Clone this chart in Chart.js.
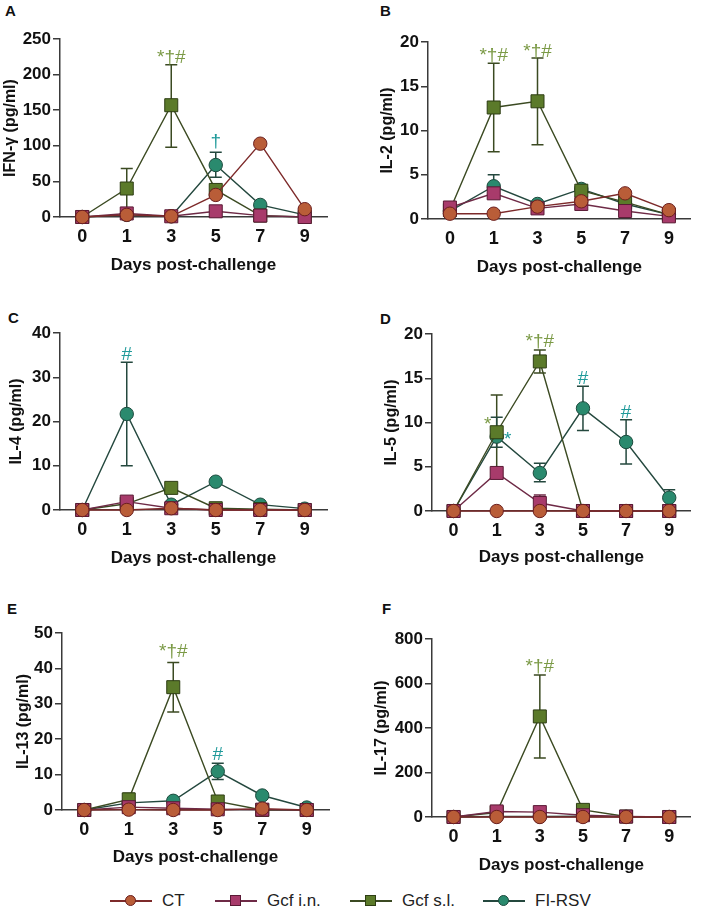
<!DOCTYPE html>
<html><head><meta charset="utf-8">
<script src="https://cdn.jsdelivr.net/npm/chart.js@4/dist/chart.umd.min.js"></script>
<style>
body{margin:0;background:#fff;width:701px;height:920px;position:relative;overflow:hidden;font-family:"Liberation Sans",Arial,Helvetica,sans-serif}
canvas{position:absolute}
.let{position:absolute;font-weight:bold;font-size:15px;line-height:15px;color:#111}
.leg{position:absolute;top:890px;height:22px}
.leg .ln{position:absolute;top:10px;height:1.5px;width:42px;left:0}
.leg .mk{position:absolute;top:5px;left:15px;width:11px;height:11px;box-sizing:border-box;border:1px solid}
.leg .tx{position:absolute;left:52px;top:1px;font-size:17px;color:#222;white-space:nowrap}
</style></head><body>
<div class="let" style="left:5px;top:3px">A</div>
<div class="let" style="left:380px;top:3px">B</div>
<div class="let" style="left:8px;top:310px">C</div>
<div class="let" style="left:380px;top:311px">D</div>
<div class="let" style="left:7px;top:601px">E</div>
<div class="let" style="left:382px;top:601px">F</div>
<canvas id="cA"></canvas><canvas id="cB"></canvas><canvas id="cC"></canvas>
<canvas id="cD"></canvas><canvas id="cE"></canvas><canvas id="cF"></canvas>
<div id="legend"></div>
<script>
// ---- data ----
const days = ['0', '1', '3', '5', '7', '9'];
const groups = ['CT', 'Gcf i.n.', 'Gcf s.l.', 'FI-RSV'];

// IFN-gamma (pg/ml)
const ifnCT = [0, 3, 1, 31, 103, 11];
const ifnIN = [0, 5, 1, 8, 2, 0];
const ifnSL = [0, 40, 157, 38, 2, 0];
const ifnFI = [0, 3, 1, 73, 17, 3];
const ifnSLerr = [null, [11, 68], [98, 214], null, null, null];
const ifnFIerr = [null, null, null, [56, 91], null, null];

// IL-2
const il2CT = [0.6, 0.6, 1.4, 2.0, 2.9, 1.0];
const il2IN = [1.3, 2.9, 1.2, 1.7, 0.9, 0.3];
const il2SL = [1.0, 12.6, 13.3, 3.2, 1.9, 0.5];
const il2FI = [0.9, 3.7, 1.7, 3.4, 1.7, 0.5];
const il2SLerr = [null, [7.6, 17.6], [8.4, 18.2], null, null, null];
const il2FIerr = [null, [2.4, 5.0], null, null, null, null];

// IL-4
const il4CT = [0, 0, 0.4, 0, 0, 0];
const il4IN = [0, 1.9, 0.4, 0, 0, 0];
const il4SL = [0, 1.4, 5.0, 0.4, 0.2, 0];
const il4FI = [0, 21.7, 1.2, 6.4, 1.2, 0.3];
const il4FIerr = [null, [10, 33.4], null, null, null, null];

// IL-5
const il5CT = [0, 0, 0, 0, 0, 0];
const il5IN = [0, 4.3, 0.9, 0, 0, 0];
const il5SL = [0, 8.9, 16.9, 0, 0, 0];
const il5FI = [0, 8.4, 4.3, 11.6, 7.8, 1.5];
const il5INerr = [null, null, [0, 1.8], null, null, null];
const il5SLerr = [null, [4.7, 13.1], [15.6, 18.2], null, null, null];
const il5FIerr = [null, [7.2, 10.6], [3.3, 5.4], [9.1, 14.1], [5.3, 10.3], [0.5, 2.4]];

// IL-13
const il13CT = [0, 0.1, 0, 0, 0.4, 0];
const il13IN = [0, 0.8, 0.5, 0.2, 0.1, 0];
const il13SL = [0, 3.0, 34.7, 2.4, 0, 0];
const il13FI = [0, 2.0, 2.6, 10.9, 4.1, 0.7];
const il13SLerr = [null, [1.3, 4.7], [27.7, 41.7], null, null, null];
const il13FIerr = [null, null, null, [8.6, 13.2], null, null];

// IL-17
const il17CT = [0, 0, 0, 0, 0, 0];
const il17IN = [0, 25, 22, 8, 2, 0];
const il17SL = [0, 20, 452, 32, 2, 0];
const il17FI = [0, 3, 2, 4, 1, 0];
const il17SLerr = [null, null, [265, 638], null, null, null];

// significance marks
const annA = [{day: '3', v: 223, t: '*†#', g: 'sl'}, {day: '5', v: 105, t: '†', g: 'fi'}];
const annB = [{day: '1', v: 18.4, t: '*†#', g: 'sl'}, {day: '3', v: 18.9, t: '*†#', g: 'sl'}];
const annC = [{day: '1', v: 35, t: '#', g: 'fi'}];
const annD = [{day: '3', v: 19.1, t: '*†#', g: 'sl'}, {day: '1', v: 9.8, t: '*', g: 'sl', dx: -9},
              {day: '1', v: 8.0, t: '*', g: 'fi', dx: 11}, {day: '5', v: 14.9, t: '#', g: 'fi'},
              {day: '7', v: 11.1, t: '#', g: 'fi'}];
const annE = [{day: '3', v: 44.6, t: '*†#', g: 'sl'}, {day: '5', v: 15.5, t: '#', g: 'fi'}];
const annF = [{day: '3', v: 674, t: '*†#', g: 'sl'}];

// ---- styles ----
const FONT = '"Liberation Sans", Arial, Helvetica, sans-serif';
const AX = '#3a3a3a';
const TXT = '#111';
const style = [
  {line: '#7d2a2a', fill: '#b95d38', edge: '#6a1e1e', shape: 'circle'},
  {line: '#6e2a46', fill: '#a83b6b', edge: '#5a1a35', shape: 'rect'},
  {line: '#3b4a22', fill: '#5b7a2a', edge: '#2e3e14', shape: 'rect'},
  {line: '#24483e', fill: '#2a8a6e', edge: '#1c4a3d', shape: 'circle'}
];
const annColor = {sl: '#7b9a46', fi: '#1f9a9a'};

const errPlugin = {
  id: 'errbars',
  beforeDatasetsDraw(chart) {
    const ctx = chart.ctx, xs = chart.scales.x, ys = chart.scales.y;
    ctx.save();
    chart.data.datasets.forEach((ds) => {
      if (!ds.errors) return;
      ctx.strokeStyle = ds.borderColor;
      ctx.lineWidth = 1.5;
      ds.errors.forEach((e, j) => {
        if (!e) return;
        const x = xs.getPixelForValue(j);
        const y1 = ys.getPixelForValue(e[0]), y2 = ys.getPixelForValue(e[1]);
        ctx.beginPath();
        ctx.moveTo(x, y1); ctx.lineTo(x, y2);
        ctx.moveTo(x - 6, y1); ctx.lineTo(x + 6, y1);
        ctx.moveTo(x - 6, y2); ctx.lineTo(x + 6, y2);
        ctx.stroke();
      });
    });
    ctx.restore();
  }
};
const annPlugin = {
  id: 'annot',
  afterDatasetsDraw(chart, args, opts) {
    const ctx = chart.ctx, xs = chart.scales.x, ys = chart.scales.y;
    ctx.save();
    ctx.font = '19px ' + FONT;
    ctx.textAlign = 'center';
    ctx.textBaseline = 'middle';
    (opts.items || []).forEach(a => {
      ctx.fillStyle = annColor[a.g];
      ctx.fillText(a.t, xs.getPixelForValue(days.indexOf(a.day)) + (a.dx || 0), ys.getPixelForValue(a.v));
    });
    ctx.restore();
  }
};

function mkDatasets(vals, errs) {
  return vals.map((v, i) => ({
    label: groups[i], data: v, errors: errs[i],
    borderColor: style[i].line, borderWidth: 1.4,
    pointStyle: style[i].shape, pointRadius: style[i].shape === 'rect' ? 9.2 : 6.7,
    pointBackgroundColor: style[i].fill, pointBorderColor: style[i].edge, pointBorderWidth: 1,
    tension: 0, clip: false
  }));
}

function panel(id, geo, yTitle, yMax, yStep, vals, errs, ann) {
  const cv = document.getElementById(id);
  cv.width = geo.cw; cv.height = geo.ch;
  cv.style.left = geo.cx + 'px'; cv.style.top = geo.cy + 'px';
  const yLH = 16 * 1.2, xLH = 17 * 1.2;
  const pl = geo.tcx - geo.cx - yLH / 2;
  const yW = geo.L - geo.cx - pl;
  const pb = geo.cy + geo.ch - (geo.xty + xLH / 2);
  const xH = geo.xty + xLH / 2 - geo.B;
  new Chart(cv, {
    type: 'line',
    data: {labels: days, datasets: mkDatasets(vals, errs)},
    plugins: [errPlugin, annPlugin],
    options: {
      responsive: false, animation: false, devicePixelRatio: 1,
      layout: {padding: {left: pl, right: geo.cx + geo.cw - geo.R, top: geo.T - geo.cy, bottom: pb}},
      plugins: {legend: {display: false}, tooltip: {enabled: false}, annot: {items: ann}},
      scales: {
        x: {
          type: 'category', offset: true,
          grid: {display: false},
          border: {display: true, color: AX, width: 1.5},
          ticks: {color: TXT, font: {family: FONT, size: 18, weight: 'bold'}, padding: 1},
          title: {display: true, text: 'Days post-challenge', color: TXT, padding: 0,
                  font: {family: FONT, size: 17, weight: 'bold', lineHeight: 1.2}},
          afterFit(s) { s.height = xH; }
        },
        y: {
          min: 0, max: yMax,
          ticks: {stepSize: yStep, color: TXT, font: {family: FONT, size: 17, weight: 'bold'}, padding: 2},
          grid: {drawOnChartArea: false, drawTicks: true, tickLength: 7, color: AX, lineWidth: 1.5},
          border: {display: true, color: AX, width: 1.5},
          title: {display: true, text: yTitle, color: TXT, padding: 0,
                  font: {family: FONT, size: 16, weight: 'bold', lineHeight: 1.2}},
          afterFit(s) { s.width = yW; }
        }
      }
    }
  });
}

panel('cA', {cx: 0, cy: 0, cw: 350, ch: 290, L: 60, R: 327, T: 39, B: 217, tcx: 11, xty: 265},
  'IFN-γ (pg/ml)', 250, 50, [ifnCT, ifnIN, ifnSL, ifnFI], [null, null, ifnSLerr, ifnFIerr], annA);
panel('cB', {cx: 350, cy: 0, cw: 351, ch: 290, L: 428, R: 693, T: 42, B: 219, tcx: 388, xty: 267},
  'IL-2 (pg/ml)', 20, 5, [il2CT, il2IN, il2SL, il2FI], [null, null, il2SLerr, il2FIerr], annB);
panel('cC', {cx: 0, cy: 290, cw: 350, ch: 300, L: 60, R: 327, T: 333, B: 510, tcx: 17, xty: 558},
  'IL-4 (pg/ml)', 40, 10, [il4CT, il4IN, il4SL, il4FI], [null, null, null, il4FIerr], annC);
panel('cD', {cx: 350, cy: 290, cw: 351, ch: 300, L: 432, R: 698, T: 334, B: 511, tcx: 392, xty: 557},
  'IL-5 (pg/ml)', 20, 5, [il5CT, il5IN, il5SL, il5FI], [null, il5INerr, il5SLerr, il5FIerr], annD);
panel('cE', {cx: 0, cy: 590, cw: 350, ch: 290, L: 62, R: 329, T: 633, B: 810, tcx: 24, xty: 857},
  'IL-13 (pg/ml)', 50, 10, [il13CT, il13IN, il13SL, il13FI], [null, null, il13SLerr, il13FIerr], annE);
panel('cF', {cx: 350, cy: 590, cw: 351, ch: 290, L: 432, R: 698, T: 639, B: 817, tcx: 382, xty: 865},
  'IL-17 (pg/ml)', 800, 200, [il17CT, il17IN, il17SL, il17FI], [null, null, il17SLerr, null], annF);

// legend
const legX = [110, 215, 350, 483];
const leg = document.getElementById('legend');
groups.forEach((g, i) => {
  const d = document.createElement('div');
  d.className = 'leg';
  d.style.left = legX[i] + 'px';
  const s = style[i];
  d.innerHTML = '<div class="ln" style="background:' + s.line + '"></div>' +
    '<div class="mk" style="background:' + s.fill + ';border-color:' + s.edge + ';' +
    (s.shape === 'circle' ? 'border-radius:50%;' : '') + '"></div>' +
    '<div class="tx">' + g + '</div>';
  leg.appendChild(d);
});
</script>
</body></html>
